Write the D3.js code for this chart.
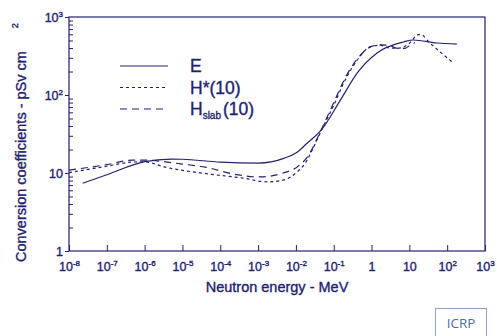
<!DOCTYPE html>
<html>
<head>
<meta charset="utf-8">
<script src="https://cdn.jsdelivr.net/npm/d3@7"></script>
<style>
  body { margin: 0; background: #fff; }
  svg { display: block; font-family: "Liberation Sans", Arial, sans-serif; }
</style>
</head>
<body>
<svg width="497" height="336"></svg>
<script>
// curves (energy in MeV, coefficient in pSv cm2)
const eEnergy = [2.3e-8, 1e-7, 1e-6, 5e-6, 1e-5, 1e-4, 1e-3, 5e-3, 1e-2, 2e-2, 4.7e-2, 0.15, 0.42, 1.4, 7, 12.6, 55, 180];
const eValue  = [7.4, 9.5, 14.0, 15.1, 15.0, 13.8, 13.4, 15.5, 18, 24.2, 35.6, 86, 192, 346, 478, 507, 464, 450];

const hStarEnergy = [1e-8, 1e-7, 4.7e-7, 1e-6, 3.5e-6, 6e-5, 4e-4, 1.7e-3, 4.6e-3, 1.07e-2, 2e-2, 2.7e-2, 4.7e-2, 9.5e-2, 0.22, 0.42, 0.91, 1.7, 3, 5.4, 9.5, 16, 19.5, 35, 65, 145];
const hStarValue  = [10.1, 12.2, 13.8, 13.9, 11.9, 9.6, 8.6, 7.7, 8.1, 10.3, 14.7, 19.7, 35, 70, 170, 281, 414, 435, 400, 400, 450, 585, 600, 463, 357, 258];

const hSlabEnergy = [1e-8, 1e-7, 4.7e-7, 1e-6, 1e-5, 4e-5, 2.2e-4, 1.1e-3, 4.6e-3, 1.07e-2, 2e-2, 4.7e-2, 0.1, 0.22, 0.42, 1, 1.7, 3, 5, 8, 10, 14];
const hSlabValue  = [10.9, 12.8, 14.6, 14.6, 13, 11.9, 9.7, 8.9, 10, 11.9, 16, 36, 80, 180, 290, 420, 440, 430, 395, 400, 430, 470];

const xExponents = [-8, -7, -6, -5, -4, -3, -2, -1, 0, 1, 2, 3];
const yExponents = [0, 1, 2, 3];

const legendLabels = ["E", "H*(10)", "Hslab(10)"];

const ink = "#22226e";
const svg = d3.select("svg");

const x = d3.scaleLog().domain([1e-8, 1e3]).range([69, 485]);
const y = d3.scaleLog().domain([1, 1e3]).range([251, 17]);

// the scanned figure has heavy type, thicken the text a little
const heavy = sel => sel.attr("stroke", ink).attr("stroke-width", 0.35);

// frame
svg.append("rect")
  .attr("x", 69).attr("y", 17)
  .attr("width", 485 - 69).attr("height", 251 - 17)
  .attr("fill", "none").attr("stroke", ink).attr("stroke-width", 1.2);

const minorX = x.ticks().filter(v => Math.abs(Math.log10(v) % 1) > 1e-6);
const minorY = y.ticks().filter(v => Math.abs(Math.log10(v) % 1) > 1e-6);

// minor ticks point into the plot
svg.append("g").attr("transform", "translate(0,251)")
  .call(d3.axisBottom(x).tickValues(minorX).tickSize(-4).tickFormat(""))
  .call(g => g.select(".domain").remove())
  .selectAll("line").attr("stroke", ink);
svg.append("g").attr("transform", "translate(69,0)")
  .call(d3.axisLeft(y).tickValues(minorY).tickSize(-4).tickFormat(""))
  .call(g => g.select(".domain").remove())
  .selectAll("line").attr("stroke", ink);

const sup = (sel, n) => {
  sel.text(null);
  if (n === 0) { sel.append("tspan").text("1"); return; }
  sel.append("tspan").text("10");
  if (n !== 1) {
    sel.append("tspan").attr("dy", "-5px").attr("font-size", "8px").text(n);
  }
};

const xAxis = svg.append("g").attr("transform", "translate(0,251)")
  .call(d3.axisBottom(x).tickValues(xExponents.map(n => Math.pow(10, n))).tickSize(-6).tickSizeOuter(0));
xAxis.select(".domain").remove();
xAxis.selectAll("line").attr("stroke", ink);
xAxis.selectAll("text")
  .attr("y", 20).attr("dy", null)
  .attr("fill", ink).attr("font-size", "12.5px")
  .call(heavy)
  .each(function (d) { sup(d3.select(this), Math.round(Math.log10(d))); });

const yAxis = svg.append("g").attr("transform", "translate(69,0)")
  .call(d3.axisLeft(y).tickValues(yExponents.map(n => Math.pow(10, n))).tickSize(4).tickSizeOuter(0));
yAxis.select(".domain").remove();
yAxis.selectAll("line").attr("stroke", ink);
yAxis.selectAll("text")
  .attr("x", -6).attr("dy", "0.35em")
  .attr("fill", ink).attr("font-size", "12.5px")
  .call(heavy)
  .each(function (d) { sup(d3.select(this), Math.round(Math.log10(d))); });

// curves
const line = d3.line()
  .x(d => x(d[0])).y(d => y(d[1]))
  .curve(d3.curveMonotoneX);

const series = [
  { e: eEnergy, v: eValue, dash: null },
  { e: hStarEnergy, v: hStarValue, dash: "3,3" },
  { e: hSlabEnergy, v: hSlabValue, dash: "7,5" }
];

svg.append("g").selectAll("path")
  .data(series)
  .join("path")
  .attr("d", s => line(d3.zip(s.e, s.v)))
  .attr("fill", "none")
  .attr("stroke", ink)
  .attr("stroke-width", 1.2)
  .attr("stroke-dasharray", s => s.dash);

// legend
const legend = svg.append("g");
series.forEach((s, i) => {
  const ly = 66 + i * 21.5;
  legend.append("line")
    .attr("x1", 120).attr("x2", 168).attr("y1", ly).attr("y2", ly)
    .attr("stroke", ink).attr("stroke-width", 1.2)
    .attr("stroke-dasharray", s.dash);
  const t = legend.append("text")
    .attr("x", 190).attr("y", ly + 6)
    .attr("fill", ink).attr("font-size", "17.5px")
    .call(heavy);
  if (i === 2) {
    t.append("tspan").text("H");
    t.append("tspan").attr("dy", "4px").attr("font-size", "10px").text("slab");
    t.append("tspan").attr("dy", "-4px").attr("dx", "2").text("(10)");
  } else {
    t.text(legendLabels[i]);
  }
});

// axis titles
svg.append("text")
  .attr("x", 277).attr("y", 292)
  .attr("text-anchor", "middle")
  .attr("fill", ink).attr("font-size", "14.5px")
  .call(heavy)
  .text("Neutron energy - MeV");

const yt = svg.append("text")
  .attr("transform", "translate(26,262) rotate(-90)")
  .attr("fill", ink).attr("font-size", "14.5px")
  .call(heavy);
yt.append("tspan").text("Conversion coefficients - pSv cm");
yt.append("tspan").attr("dx", "23").attr("dy", "-8px").attr("font-size", "9px").text("2");

// ICRP tag
svg.append("rect")
  .attr("x", 435.5).attr("y", 308.5).attr("width", 51).attr("height", 30)
  .attr("fill", "none").attr("stroke", "#8ea6c6");
svg.append("text")
  .attr("x", 461).attr("y", 328)
  .attr("text-anchor", "middle")
  .attr("fill", "#4d6f9d").attr("font-size", "13.5px")
  .attr("font-family", "'Open Sans', sans-serif")
  .text("ICRP");
</script>
</body>
</html>
